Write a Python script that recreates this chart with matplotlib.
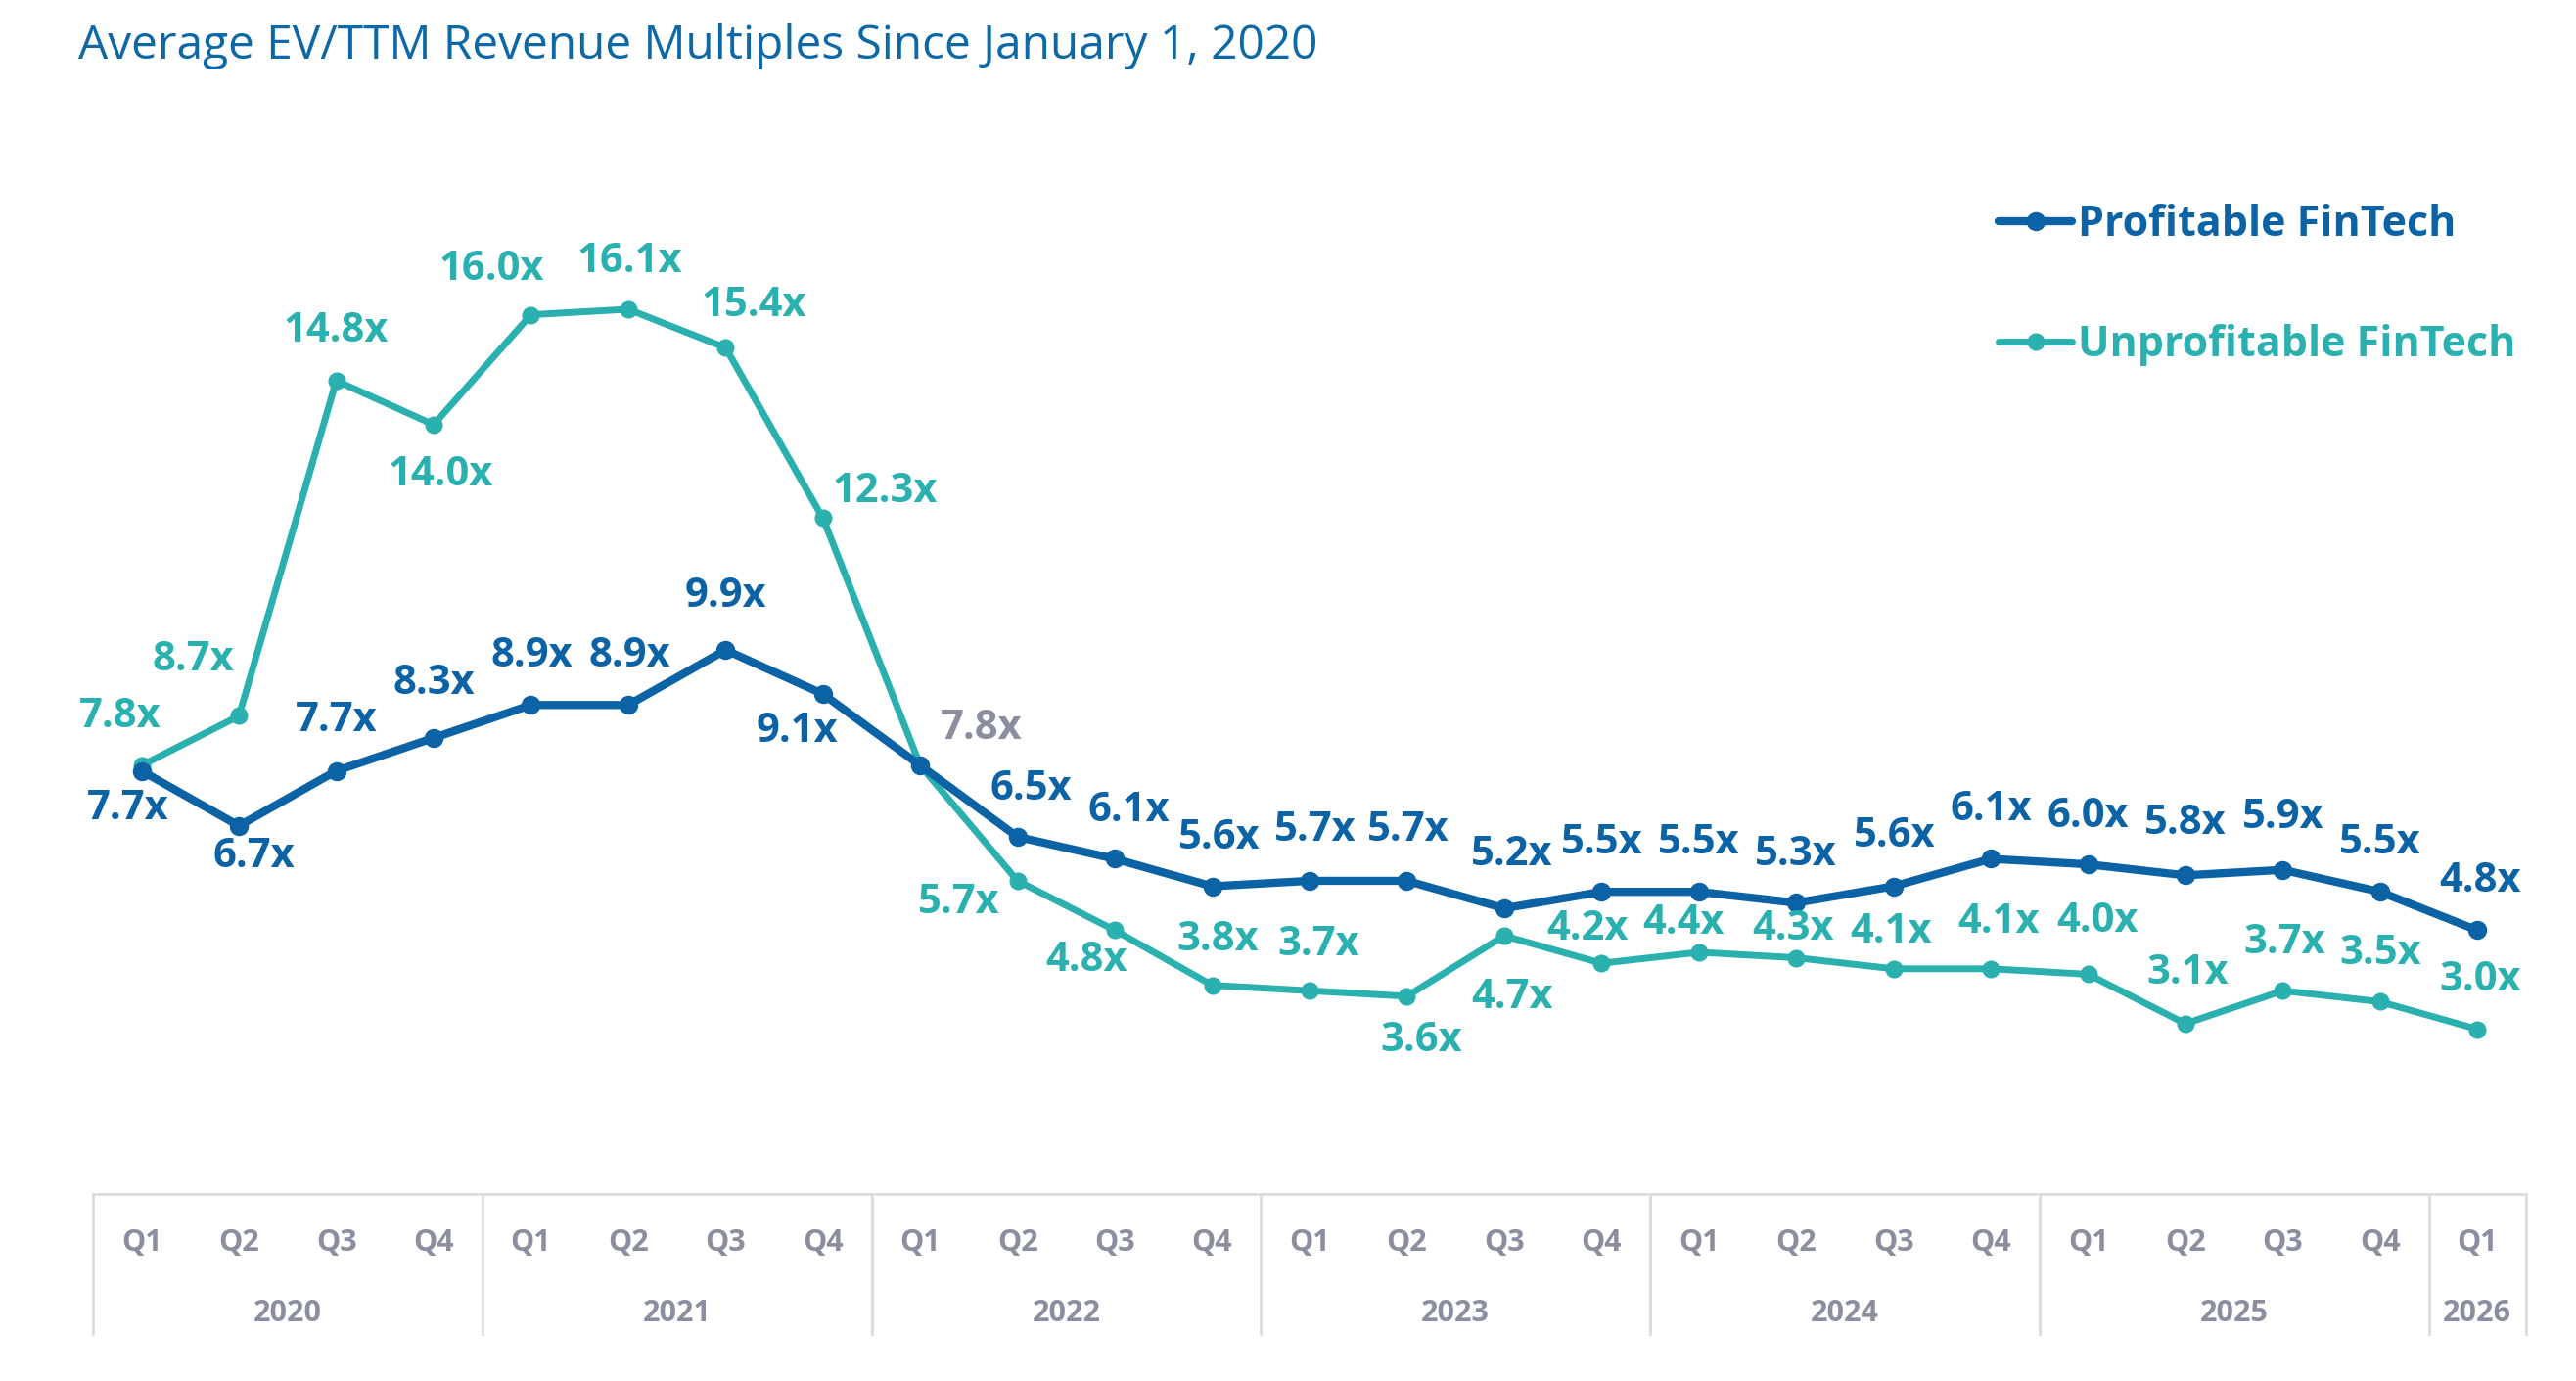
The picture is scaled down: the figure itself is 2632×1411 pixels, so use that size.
import matplotlib

matplotlib.use("Agg")
import matplotlib.pyplot as plt  # noqa: E402

# --- data -------------------------------------------------------------------
quarters = ["Q1", "Q2", "Q3", "Q4"] * 6 + ["Q1"]
years = ["2020", "2021", "2022", "2023", "2024", "2025", "2026"]
profitable = [7.7, 6.7, 7.7, 8.3, 8.9, 8.9, 9.9, 9.1, 7.8, 6.5, 6.1, 5.6, 5.7,
              5.7, 5.2, 5.5, 5.5, 5.3, 5.6, 6.1, 6.0, 5.8, 5.9, 5.5, 4.8]
unprofitable = [7.8, 8.7, 14.8, 14.0, 16.0, 16.1, 15.4, 12.3, 7.8, 5.7, 4.8,
                3.8, 3.7, 3.6, 4.7, 4.2, 4.4, 4.3, 4.1, 4.1, 4.0, 3.1, 3.7,
                3.5, 3.0]
series_names = ["Profitable FinTech", "Unprofitable FinTech"]

# label offsets (points) - hand placed like the original deck
prof_off = [(-10, -28), (11, -23), (0, 37), (0, 40), (1, 36), (1, 36), (0, 39),
            (-19, -28), (45, 27), (10, 35), (10, 35), (5, 35), (4, 37), (1, 37),
            (6, 39), (0, 36), (0, 36), (0, 35), (1, 37), (0, 36), (0, 35),
            (0, 38), (0, 38), (0, 36), (2, 36)]
unprof_off = [(-16, 36), (-34, 41), (0, 36), (5, -37), (-29, 33), (1, 35),
              (21, 31), (46, 19), None, (-43, -16), (-21, -22), (4, 33),
              (7, 34), (11, -33), (6, -46), (-10, 25), (-11, 21), (-2, 21),
              (-2, 27), (6, 34), (7, 39), (2, 37), (1, 35), (0, 35), (2, 36)]

BLUE = "#0b63a5"
TEAL = "#2bb0b0"
GRAY = "#8a8e9e"
LINE = "#dcdcdc"

plt.rcParams["font.family"] = ["Open Sans", "DejaVu Sans"]

W, H = 2632, 1411
fig = plt.figure(figsize=(W / 100, H / 100), dpi=100)
ax_left, ax_right = 95 / W, 2581 / W
ax_bot, ax_top = 1 - 1220 / H, 1 - 97 / H
ax = fig.add_axes([ax_left, ax_bot, ax_right - ax_left, ax_top - ax_bot])

x = list(range(len(quarters)))
ax.plot(x, profitable, color=BLUE, lw=6, marker="o", ms=13,
        solid_capstyle="round", zorder=3, label=series_names[0])
ax.plot(x, unprofitable, color=TEAL, lw=5, marker="o", ms=12,
        solid_capstyle="round", zorder=2, label=series_names[1])

for i, v in enumerate(profitable):
    col = GRAY if i == 8 else BLUE
    ax.annotate(f"{v:.1f}x", (i, v), xytext=prof_off[i], textcoords="offset points",
                ha="center", va="center", fontsize=30, fontweight="bold",
                color=col, zorder=5)
for i, v in enumerate(unprofitable):
    if unprof_off[i] is None:
        continue
    ax.annotate(f"{v:.1f}x", (i, v), xytext=unprof_off[i], textcoords="offset points",
                ha="center", va="center", fontsize=30, fontweight="bold",
                color=TEAL, zorder=5)

ax.set_xlim(-0.5, len(quarters) - 0.5)
ax.set_ylim(0, 20)
for s in ["top", "left", "right"]:
    ax.spines[s].set_visible(False)
ax.spines["bottom"].set_color(LINE)
ax.spines["bottom"].set_linewidth(2)
ax.set_yticks([])
ax.set_xticks([])

# two-level category axis
tr = ax.get_xaxis_transform()
depth = -(1363 - 1220) / (1220 - 97)
q_y = -(1270 - 1220) / (1220 - 97)
yr_y = -(1342 - 1220) / (1220 - 97)
for i, q in enumerate(quarters):
    ax.text(i, q_y, q, transform=tr, ha="center", va="center", fontsize=22,
            fontweight="bold", color=GRAY)
bounds = [-0.5, 3.5, 7.5, 11.5, 15.5, 19.5, 23.5, 24.5]
for k, yr in enumerate(years):
    ax.text((bounds[k] + bounds[k + 1]) / 2, yr_y, yr, transform=tr, ha="center",
            va="center", fontsize=22, fontweight="bold", color=GRAY)
for b in bounds:
    ax.plot([b, b], [0, depth], transform=tr, color=LINE, lw=2, clip_on=False)

fig.text(80 / W, 1 - 47 / H, "Average EV/TTM Revenue Multiples Since January 1, 2020",
         fontsize=34.5, color="#0d68a6", ha="left", va="center")

leg = ax.legend(loc="center left", bbox_to_anchor=(2042 / W, 1 - 291 / H),
                bbox_transform=fig.transFigure, frameon=False, borderpad=0,
                borderaxespad=0, handlelength=1.75, handletextpad=0.12,
                labelspacing=1.85, labelcolor="linecolor",
                prop={"size": 31, "weight": "bold"})

fig.savefig("out.png", dpi=100, facecolor="white")
